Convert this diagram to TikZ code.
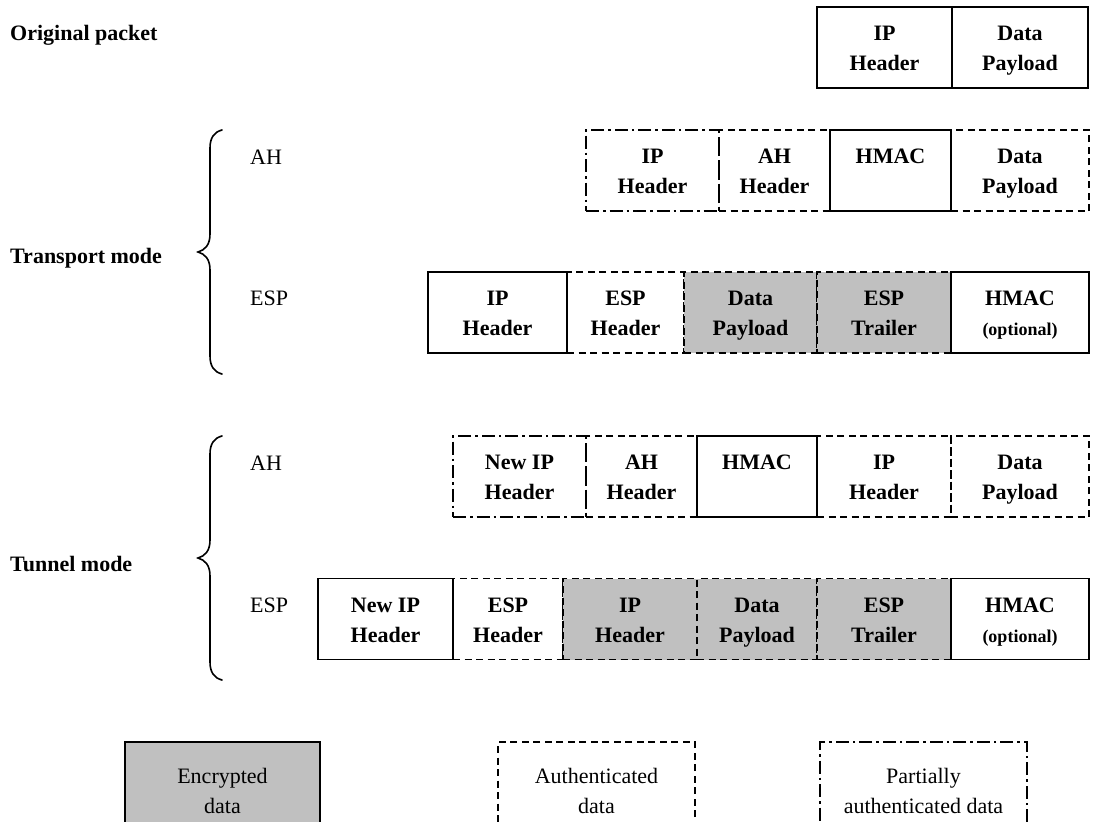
\documentclass[tikz,border=0pt]{standalone}
\usepackage{fontspec}
\setmainfont{Liberation Serif}
\definecolor{encgray}{RGB}{192,192,192}
\begin{document}
\begin{tikzpicture}[x=1pt,y=-1pt,
  box/.style={rectangle, draw, line width=1.8pt, minimum height=81pt, inner sep=0pt, align=center, text height=46pt, text depth=0pt, font=\bfseries\fontsize{22}{30}\selectfont},
  dsh/.style={dash pattern=on 7pt off 4.5pt},
  dshdot/.style={dash pattern=on 13pt off 4pt on 2.5pt off 4pt},
  enc/.style={fill=encgray},
  lbl/.style={anchor=west, inner sep=0pt, font=\fontsize{22}{26}\selectfont},
  ttl/.style={anchor=west, inner sep=0pt, font=\bfseries\fontsize{22}{26}\selectfont},
  brc/.style={line width=1.6pt, line cap=round},
  leg/.style={rectangle, draw, line width=1.8pt, minimum height=108pt, inner sep=0pt},
  legt/.style={align=center, inner sep=0pt, text height=46pt, text depth=0pt, font=\fontsize{22}{30}\selectfont}
]
\useasboundingbox (0,0) rectangle (1096,822);
\clip (0,0) rectangle (1096,822);

% titles and labels
\node[ttl] (orig) at (10,35) {Original packet};
\node[ttl] (trans) at (10,258) {Transport mode};
\node[ttl] (tun) at (10,564) {Tunnel mode};
\node[lbl] (lah1) at (250,157) {AH};
\node[lbl] (lesp1) at (250,298) {ESP};
\node[lbl] (lah2) at (250,463) {AH};
\node[lbl] (lesp2) at (250,605) {ESP};

% braces
\draw[brc] (222,130) .. controls (214,132) and (210,138) .. (210,148) -- (210,234)
  .. controls (210,245) and (205,250) .. (198,252) .. controls (205,254) and (210,259) .. (210,270)
  -- (210,356) .. controls (210,366) and (214,372) .. (222,374);
\draw[brc] (222,436) .. controls (214,438) and (210,444) .. (210,454) -- (210,540)
  .. controls (210,551) and (205,556) .. (198,558) .. controls (205,560) and (210,565) .. (210,576)
  -- (210,662) .. controls (210,672) and (214,678) .. (222,680);

% dashed boxes
\node[box, dsh, minimum width=111pt] (tah2) at (774.5,170.5) {AH\\Header};
\node[box, dsh, minimum width=138pt] (tah4) at (1020,170.5) {Data\\Payload};
\node[box, dsh, minimum width=117pt] (tes2) at (625.5,312.5) {ESP\\Header};
\node[box, dsh, enc, minimum width=133pt] (tes3) at (750.5,312.5) {Data\\Payload};
\node[box, dsh, enc, minimum width=134pt] (tes4) at (884,312.5) {ESP\\Trailer};
\node[box, dsh, minimum width=111pt] (nah2) at (641.5,476.5) {AH\\Header};
\node[box, dsh, minimum width=134pt] (nah4) at (884,476.5) {IP\\Header};
\node[box, dsh, minimum width=138pt] (nah5) at (1020,476.5) {Data\\Payload};
\node[box, dsh, minimum width=110pt] (nes2) at (508,619) {ESP\\Header};
\node[box, dsh, enc, minimum width=134pt] (nes3) at (630,619) {IP\\Header};
\node[box, dsh, enc, minimum width=120pt] (nes4) at (757,619) {Data\\Payload};
\node[box, dsh, enc, minimum width=134pt] (nes5) at (884,619) {ESP\\Trailer};

% dash-dot boxes
\node[box, dshdot, minimum width=133pt] (tah1) at (652.5,170.5) {IP\\Header};
\node[box, dshdot, minimum width=133pt] (nah1) at (519.5,476.5) {New IP\\Header};

% solid boxes
\node[box, minimum width=135pt] (o1) at (884.5,47.5) {IP\\Header};
\node[box, minimum width=136pt] (o2) at (1020,47.5) {Data\\Payload};
\node[box, minimum width=121pt] (tah3) at (890.5,170.5) {HMAC\\\mbox{}};
\node[box, minimum width=139pt] (tes1) at (497.5,312.5) {IP\\Header};
\node[box, minimum width=138pt] (tes5) at (1020,312.5) {HMAC\\{\fontsize{18}{30}\selectfont (optional)}};
\node[box, minimum width=120pt] (nah3) at (757,476.5) {HMAC\\\mbox{}};
\node[box, minimum width=135pt] (nes1) at (385.5,619) {New IP\\Header};
\node[box, minimum width=138pt] (nes6) at (1020,619) {HMAC\\{\fontsize{18}{30}\selectfont (optional)}};

% legend
\node[leg, enc, minimum width=195pt] (leg1) at (222.5,796) {};
\node[leg, dsh, minimum width=197pt] (leg2) at (596.5,796) {};
\node[leg, dshdot, minimum width=207pt] (leg3) at (923.5,796) {};
\node[legt] (leg1t) at (222.5,790) {Encrypted\\data};
\node[legt] (leg2t) at (596.5,790) {Authenticated\\data};
\node[legt] (leg3t) at (923.5,790) {Partially\\authenticated data};
\end{tikzpicture}
\end{document}
